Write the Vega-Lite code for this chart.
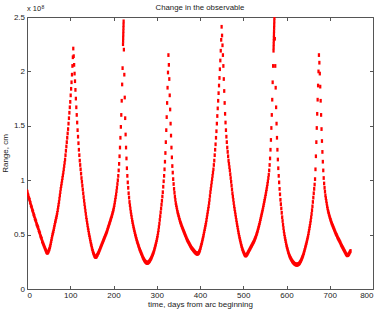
{
"$schema":"https://vega.github.io/schema/vega-lite/v6.json",
"autosize":"none",
"width":346,"height":272,
"padding":{"left":27,"top":17,"right":9,"bottom":23},
"background":"white",
"config":{"view":{"stroke":"#555","strokeWidth":1},"font":"Liberation Sans",
 "axis":{"domain":false,"grid":false,"tickColor":"#555","tickSize":-3.5,"labelFont":"Liberation Sans","labelFontSize":8,"labelColor":"#222","titleFont":"Liberation Sans","titleFontSize":8,"titleFontWeight":"normal","titleColor":"#222"}},
"datasets":{"obs":[
{"t":0,"r":0.90},{"t":1,"r":0.89},{"t":2,"r":0.87},{"t":3,"r":0.86},{"t":4,"r":0.84},{"t":5,"r":0.83},{"t":6,"r":0.82},{"t":7,"r":0.80},{"t":8,"r":0.79},{"t":9,"r":0.77},{"t":10,"r":0.76},{"t":11,"r":0.75},{"t":12,"r":0.73},{"t":13,"r":0.72},{"t":14,"r":0.71},{"t":15,"r":0.69},{"t":16,"r":0.68},{"t":17,"r":0.67},{"t":18,"r":0.65},{"t":19,"r":0.64},{"t":20,"r":0.63},{"t":21,"r":0.62},{"t":22,"r":0.60},{"t":23,"r":0.59},{"t":24,"r":0.58},{"t":25,"r":0.57},{"t":26,"r":0.56},{"t":27,"r":0.54},{"t":28,"r":0.53},{"t":29,"r":0.52},{"t":30,"r":0.51},{"t":31,"r":0.49},{"t":32,"r":0.48},{"t":33,"r":0.47},{"t":34,"r":0.46},{"t":35,"r":0.44},{"t":36,"r":0.43},{"t":37,"r":0.42},{"t":38,"r":0.41},{"t":39,"r":0.40},{"t":40,"r":0.39},{"t":41,"r":0.38},{"t":42,"r":0.37},{"t":43,"r":0.36},{"t":44,"r":0.35},{"t":45,"r":0.34},{"t":46,"r":0.335},{"t":47,"r":0.333},
{"t":48,"r":0.335},{"t":49,"r":0.34},{"t":50,"r":0.35},{"t":51,"r":0.36},{"t":52,"r":0.37},{"t":53,"r":0.385},{"t":54,"r":0.40},{"t":55,"r":0.42},{"t":56,"r":0.44},{"t":57,"r":0.46},{"t":58,"r":0.48},{"t":59,"r":0.50},{"t":60,"r":0.515},{"t":61,"r":0.53},{"t":62,"r":0.55},{"t":63,"r":0.57},{"t":64,"r":0.59},{"t":65,"r":0.61},{"t":66,"r":0.625},{"t":67,"r":0.645},{"t":68,"r":0.66},{"t":69,"r":0.68},{"t":70,"r":0.70},{"t":71,"r":0.725},{"t":72,"r":0.75},{"t":73,"r":0.775},{"t":74,"r":0.80},{"t":75,"r":0.83},{"t":76,"r":0.86},{"t":77,"r":0.89},{"t":78,"r":0.92},{"t":79,"r":0.945},{"t":80,"r":0.97},{"t":81,"r":0.995},{"t":82,"r":1.02},{"t":83,"r":1.045},{"t":84,"r":1.07},{"t":85,"r":1.10},{"t":86,"r":1.13},{"t":87,"r":1.16},{"t":88,"r":1.19},{"t":89,"r":1.23},{"t":90,"r":1.27},{"t":91,"r":1.31},{"t":92,"r":1.35},{"t":93,"r":1.39},{"t":94,"r":1.43},{"t":95,"r":1.47},{"t":96,"r":1.52},{"t":97,"r":1.57},{"t":98,"r":1.62},{"t":99,"r":1.67},{"t":100,"r":1.72},{"t":101,"r":1.78},{"t":102,"r":1.84},{"t":103,"r":1.90},{"t":104,"r":1.97},{"t":105,"r":2.05},{"t":106,"r":2.13},{"t":107,"r":2.21},
{"t":108,"r":2.14},{"t":109,"r":2.06},{"t":110,"r":1.98},{"t":111,"r":1.91},{"t":112,"r":1.83},{"t":113,"r":1.75},{"t":114,"r":1.67},{"t":115,"r":1.60},{"t":116,"r":1.53},{"t":117,"r":1.46},{"t":118,"r":1.40},{"t":119,"r":1.34},{"t":120,"r":1.28},{"t":121,"r":1.23},{"t":122,"r":1.18},{"t":123,"r":1.14},{"t":124,"r":1.10},{"t":125,"r":1.06},{"t":126,"r":1.02},{"t":127,"r":0.985},{"t":128,"r":0.95},{"t":129,"r":0.915},{"t":130,"r":0.88},{"t":131,"r":0.845},{"t":132,"r":0.81},{"t":133,"r":0.78},{"t":134,"r":0.75},{"t":135,"r":0.72},{"t":136,"r":0.69},{"t":137,"r":0.66},{"t":138,"r":0.635},{"t":139,"r":0.61},{"t":140,"r":0.585},{"t":141,"r":0.56},{"t":142,"r":0.54},{"t":143,"r":0.515},{"t":144,"r":0.495},{"t":145,"r":0.475},{"t":146,"r":0.455},{"t":147,"r":0.435},{"t":148,"r":0.415},{"t":149,"r":0.40},{"t":150,"r":0.38},{"t":151,"r":0.365},{"t":152,"r":0.35},{"t":153,"r":0.335},{"t":154,"r":0.325},{"t":155,"r":0.315},{"t":156,"r":0.305},{"t":157,"r":0.30},{"t":158,"r":0.295},{"t":159,"r":0.295},{"t":160,"r":0.297},
{"t":161,"r":0.30},{"t":162,"r":0.31},{"t":163,"r":0.315},{"t":164,"r":0.325},{"t":165,"r":0.33},{"t":166,"r":0.34},{"t":167,"r":0.35},{"t":168,"r":0.36},{"t":169,"r":0.37},{"t":170,"r":0.38},{"t":171,"r":0.39},{"t":172,"r":0.40},{"t":173,"r":0.41},{"t":174,"r":0.42},{"t":175,"r":0.43},{"t":176,"r":0.44},{"t":177,"r":0.45},{"t":178,"r":0.46},{"t":179,"r":0.47},{"t":180,"r":0.48},{"t":181,"r":0.49},{"t":182,"r":0.50},{"t":183,"r":0.51},{"t":184,"r":0.52},{"t":185,"r":0.53},{"t":186,"r":0.545},{"t":187,"r":0.557},{"t":188,"r":0.57},{"t":189,"r":0.582},{"t":190,"r":0.595},{"t":191,"r":0.607},{"t":192,"r":0.62},{"t":193,"r":0.632},{"t":194,"r":0.645},{"t":195,"r":0.657},{"t":196,"r":0.67},{"t":197,"r":0.685},{"t":198,"r":0.70},{"t":199,"r":0.715},{"t":200,"r":0.73},{"t":201,"r":0.75},{"t":202,"r":0.77},{"t":203,"r":0.795},{"t":204,"r":0.82},{"t":205,"r":0.845},{"t":206,"r":0.87},{"t":207,"r":0.90},{"t":208,"r":0.93},{"t":209,"r":0.965},{"t":210,"r":1.00},{"t":211,"r":1.04},{"t":212,"r":1.09},{"t":213,"r":1.15},{"t":214,"r":1.22},{"t":215,"r":1.30},{"t":216,"r":1.39},{"t":217,"r":1.49},{"t":218,"r":1.60},{"t":219,"r":1.73},{"t":220,"r":1.88},{"t":221,"r":2.03},{"t":222,"r":2.25},{"t":222.2,"r":2.28},{"t":222.4,"r":2.31},{"t":222.6,"r":2.34},{"t":222.8,"r":2.37},{"t":223,"r":2.40},{"t":223.2,"r":2.43},{"t":223.4,"r":2.46},
{"t":224,"r":2.20},{"t":225,"r":1.97},{"t":226,"r":1.76},{"t":227,"r":1.57},{"t":228,"r":1.42},{"t":229,"r":1.30},{"t":230,"r":1.20},{"t":231,"r":1.11},{"t":232,"r":1.04},{"t":233,"r":0.98},{"t":234,"r":0.93},{"t":235,"r":0.88},{"t":236,"r":0.84},{"t":237,"r":0.80},{"t":238,"r":0.77},{"t":239,"r":0.74},{"t":240,"r":0.71},{"t":241,"r":0.685},{"t":242,"r":0.66},{"t":243,"r":0.635},{"t":244,"r":0.615},{"t":245,"r":0.595},{"t":246,"r":0.575},{"t":247,"r":0.557},{"t":248,"r":0.54},{"t":249,"r":0.522},{"t":250,"r":0.505},{"t":251,"r":0.49},{"t":252,"r":0.475},{"t":253,"r":0.46},{"t":254,"r":0.445},{"t":255,"r":0.432},{"t":256,"r":0.42},{"t":257,"r":0.407},{"t":258,"r":0.395},{"t":259,"r":0.382},{"t":260,"r":0.37},{"t":261,"r":0.36},{"t":262,"r":0.35},{"t":263,"r":0.34},{"t":264,"r":0.33},{"t":265,"r":0.32},{"t":266,"r":0.31},{"t":267,"r":0.30},{"t":268,"r":0.29},{"t":269,"r":0.282},{"t":270,"r":0.275},{"t":271,"r":0.267},{"t":272,"r":0.26},{"t":273,"r":0.255},{"t":274,"r":0.25},{"t":275,"r":0.246},{"t":276,"r":0.243},{"t":277,"r":0.241},{"t":278,"r":0.24},{"t":279,"r":0.241},{"t":280,"r":0.243},
{"t":281,"r":0.246},{"t":282,"r":0.25},{"t":283,"r":0.255},{"t":284,"r":0.26},{"t":285,"r":0.267},{"t":286,"r":0.275},{"t":287,"r":0.282},{"t":288,"r":0.29},{"t":289,"r":0.30},{"t":290,"r":0.31},{"t":291,"r":0.32},{"t":292,"r":0.33},{"t":293,"r":0.342},{"t":294,"r":0.355},{"t":295,"r":0.37},{"t":296,"r":0.385},{"t":297,"r":0.40},{"t":298,"r":0.415},{"t":299,"r":0.432},{"t":300,"r":0.45},{"t":301,"r":0.47},{"t":302,"r":0.49},{"t":303,"r":0.515},{"t":304,"r":0.54},{"t":305,"r":0.57},{"t":306,"r":0.60},{"t":307,"r":0.635},{"t":308,"r":0.67},{"t":309,"r":0.705},{"t":310,"r":0.74},{"t":311,"r":0.775},{"t":312,"r":0.81},{"t":313,"r":0.85},{"t":314,"r":0.89},{"t":315,"r":0.94},{"t":316,"r":0.99},{"t":317,"r":1.04},{"t":318,"r":1.10},{"t":319,"r":1.17},{"t":320,"r":1.25},{"t":321,"r":1.35},{"t":322,"r":1.46},{"t":323,"r":1.58},{"t":324,"r":1.71},{"t":325,"r":1.85},{"t":326,"r":1.99},{"t":327,"r":2.15},
{"t":328,"r":2.06},{"t":329,"r":1.93},{"t":330,"r":1.78},{"t":331,"r":1.65},{"t":332,"r":1.52},{"t":333,"r":1.41},{"t":334,"r":1.30},{"t":335,"r":1.21},{"t":336,"r":1.13},{"t":337,"r":1.07},{"t":338,"r":1.01},{"t":339,"r":0.965},{"t":340,"r":0.92},{"t":341,"r":0.885},{"t":342,"r":0.85},{"t":343,"r":0.82},{"t":344,"r":0.79},{"t":345,"r":0.77},{"t":346,"r":0.75},{"t":347,"r":0.73},{"t":348,"r":0.71},{"t":349,"r":0.695},{"t":350,"r":0.68},{"t":351,"r":0.665},{"t":352,"r":0.65},{"t":353,"r":0.635},{"t":354,"r":0.62},{"t":355,"r":0.61},{"t":356,"r":0.60},{"t":357,"r":0.587},{"t":358,"r":0.575},{"t":359,"r":0.565},{"t":360,"r":0.555},{"t":361,"r":0.545},{"t":362,"r":0.535},{"t":363,"r":0.525},{"t":364,"r":0.515},{"t":365,"r":0.505},{"t":366,"r":0.495},{"t":367,"r":0.485},{"t":368,"r":0.475},{"t":369,"r":0.465},{"t":370,"r":0.455},{"t":371,"r":0.447},{"t":372,"r":0.44},{"t":373,"r":0.432},{"t":374,"r":0.425},{"t":375,"r":0.417},{"t":376,"r":0.41},{"t":377,"r":0.402},{"t":378,"r":0.395},{"t":379,"r":0.387},{"t":380,"r":0.38},{"t":381,"r":0.375},{"t":382,"r":0.37},{"t":383,"r":0.365},{"t":384,"r":0.36},{"t":385,"r":0.355},{"t":386,"r":0.35},{"t":387,"r":0.345},{"t":388,"r":0.34},{"t":389,"r":0.336},{"t":390,"r":0.332},{"t":391,"r":0.329},{"t":392,"r":0.326},{"t":393,"r":0.325},{"t":394,"r":0.324},{"t":395,"r":0.326},{"t":396,"r":0.328},
{"t":397,"r":0.332},{"t":398,"r":0.34},{"t":399,"r":0.35},{"t":400,"r":0.36},{"t":401,"r":0.375},{"t":402,"r":0.39},{"t":403,"r":0.405},{"t":404,"r":0.42},{"t":405,"r":0.437},{"t":406,"r":0.455},{"t":407,"r":0.472},{"t":408,"r":0.49},{"t":409,"r":0.51},{"t":410,"r":0.53},{"t":411,"r":0.55},{"t":412,"r":0.57},{"t":413,"r":0.59},{"t":414,"r":0.61},{"t":415,"r":0.635},{"t":416,"r":0.66},{"t":417,"r":0.685},{"t":418,"r":0.71},{"t":419,"r":0.735},{"t":420,"r":0.76},{"t":421,"r":0.79},{"t":422,"r":0.82},{"t":423,"r":0.855},{"t":424,"r":0.89},{"t":425,"r":0.92},{"t":426,"r":0.95},{"t":427,"r":0.98},{"t":428,"r":1.01},{"t":429,"r":1.04},{"t":430,"r":1.07},{"t":431,"r":1.10},{"t":432,"r":1.14},{"t":433,"r":1.18},{"t":434,"r":1.23},{"t":435,"r":1.28},{"t":436,"r":1.33},{"t":437,"r":1.39},{"t":438,"r":1.45},{"t":439,"r":1.52},{"t":440,"r":1.59},{"t":441,"r":1.66},{"t":442,"r":1.73},{"t":443,"r":1.80},{"t":444,"r":1.87},{"t":445,"r":1.94},{"t":446,"r":2.02},{"t":447,"r":2.10},{"t":448,"r":2.19},{"t":449,"r":2.29},{"t":450,"r":2.41},
{"t":451,"r":2.33},{"t":452,"r":2.24},{"t":453,"r":2.15},{"t":454,"r":2.05},{"t":455,"r":1.93},{"t":456,"r":1.82},{"t":457,"r":1.71},{"t":458,"r":1.61},{"t":459,"r":1.53},{"t":460,"r":1.46},{"t":461,"r":1.40},{"t":462,"r":1.35},{"t":463,"r":1.30},{"t":464,"r":1.26},{"t":465,"r":1.22},{"t":466,"r":1.18},{"t":467,"r":1.15},{"t":468,"r":1.12},{"t":469,"r":1.09},{"t":470,"r":1.055},{"t":471,"r":1.02},{"t":472,"r":0.985},{"t":473,"r":0.95},{"t":474,"r":0.915},{"t":475,"r":0.88},{"t":476,"r":0.85},{"t":477,"r":0.82},{"t":478,"r":0.79},{"t":479,"r":0.76},{"t":480,"r":0.735},{"t":481,"r":0.71},{"t":482,"r":0.685},{"t":483,"r":0.66},{"t":484,"r":0.635},{"t":485,"r":0.61},{"t":486,"r":0.587},{"t":487,"r":0.565},{"t":488,"r":0.542},{"t":489,"r":0.52},{"t":490,"r":0.50},{"t":491,"r":0.48},{"t":492,"r":0.462},{"t":493,"r":0.445},{"t":494,"r":0.427},{"t":495,"r":0.41},{"t":496,"r":0.395},{"t":497,"r":0.38},{"t":498,"r":0.367},{"t":499,"r":0.355},{"t":500,"r":0.345},{"t":501,"r":0.335},{"t":502,"r":0.326},{"t":503,"r":0.318},{"t":504,"r":0.312},{"t":505,"r":0.308},{"t":506,"r":0.308},{"t":507,"r":0.31},
{"t":508,"r":0.315},{"t":509,"r":0.32},{"t":510,"r":0.327},{"t":511,"r":0.335},{"t":512,"r":0.342},{"t":513,"r":0.35},{"t":514,"r":0.357},{"t":515,"r":0.365},{"t":516,"r":0.372},{"t":517,"r":0.38},{"t":518,"r":0.387},{"t":519,"r":0.395},{"t":520,"r":0.402},{"t":521,"r":0.41},{"t":522,"r":0.417},{"t":523,"r":0.425},{"t":524,"r":0.432},{"t":525,"r":0.44},{"t":526,"r":0.45},{"t":527,"r":0.46},{"t":528,"r":0.47},{"t":529,"r":0.48},{"t":530,"r":0.492},{"t":531,"r":0.505},{"t":532,"r":0.517},{"t":533,"r":0.53},{"t":534,"r":0.545},{"t":535,"r":0.56},{"t":536,"r":0.575},{"t":537,"r":0.59},{"t":538,"r":0.607},{"t":539,"r":0.625},{"t":540,"r":0.642},{"t":541,"r":0.66},{"t":542,"r":0.677},{"t":543,"r":0.695},{"t":544,"r":0.712},{"t":545,"r":0.73},{"t":546,"r":0.75},{"t":547,"r":0.77},{"t":548,"r":0.79},{"t":549,"r":0.81},{"t":550,"r":0.83},{"t":551,"r":0.85},{"t":552,"r":0.872},{"t":553,"r":0.895},{"t":554,"r":0.917},{"t":555,"r":0.94},{"t":556,"r":0.965},{"t":557,"r":0.99},{"t":558,"r":1.02},{"t":559,"r":1.05},{"t":560,"r":1.09},{"t":561,"r":1.14},{"t":562,"r":1.20},{"t":563,"r":1.28},{"t":564,"r":1.37},{"t":565,"r":1.48},{"t":566,"r":1.60},{"t":567,"r":1.74},{"t":568,"r":1.90},{"t":569,"r":2.05},{"t":570,"r":2.19},{"t":570.2,"r":2.22},{"t":570.4,"r":2.25},{"t":570.6,"r":2.28},{"t":570.8,"r":2.31},{"t":571,"r":2.34},{"t":571.2,"r":2.37},{"t":571.4,"r":2.40},{"t":571.6,"r":2.43},{"t":571.8,"r":2.46},{"t":572,"r":2.49},{"t":572.2,"r":2.52},
{"t":573,"r":2.30},{"t":574,"r":2.05},{"t":575,"r":1.85},{"t":576,"r":1.67},{"t":577,"r":1.52},{"t":578,"r":1.39},{"t":579,"r":1.28},{"t":580,"r":1.19},{"t":581,"r":1.11},{"t":582,"r":1.04},{"t":583,"r":0.98},{"t":584,"r":0.92},{"t":585,"r":0.87},{"t":586,"r":0.82},{"t":587,"r":0.78},{"t":588,"r":0.74},{"t":589,"r":0.70},{"t":590,"r":0.66},{"t":591,"r":0.625},{"t":592,"r":0.59},{"t":593,"r":0.56},{"t":594,"r":0.53},{"t":595,"r":0.505},{"t":596,"r":0.48},{"t":597,"r":0.46},{"t":598,"r":0.44},{"t":599,"r":0.42},{"t":600,"r":0.40},{"t":601,"r":0.385},{"t":602,"r":0.37},{"t":603,"r":0.355},{"t":604,"r":0.34},{"t":605,"r":0.327},{"t":606,"r":0.315},{"t":607,"r":0.305},{"t":608,"r":0.295},{"t":609,"r":0.287},{"t":610,"r":0.28},{"t":611,"r":0.272},{"t":612,"r":0.265},{"t":613,"r":0.258},{"t":614,"r":0.252},{"t":615,"r":0.247},{"t":616,"r":0.242},{"t":617,"r":0.238},{"t":618,"r":0.234},{"t":619,"r":0.231},{"t":620,"r":0.228},{"t":621,"r":0.226},{"t":622,"r":0.225},{"t":623,"r":0.224},{"t":624,"r":0.224},{"t":625,"r":0.224},{"t":626,"r":0.225},{"t":627,"r":0.227},
{"t":628,"r":0.23},{"t":629,"r":0.233},{"t":630,"r":0.237},{"t":631,"r":0.243},{"t":632,"r":0.25},{"t":633,"r":0.257},{"t":634,"r":0.265},{"t":635,"r":0.275},{"t":636,"r":0.285},{"t":637,"r":0.295},{"t":638,"r":0.305},{"t":639,"r":0.317},{"t":640,"r":0.33},{"t":641,"r":0.345},{"t":642,"r":0.36},{"t":643,"r":0.375},{"t":644,"r":0.39},{"t":645,"r":0.405},{"t":646,"r":0.42},{"t":647,"r":0.437},{"t":648,"r":0.455},{"t":649,"r":0.472},{"t":650,"r":0.49},{"t":651,"r":0.512},{"t":652,"r":0.535},{"t":653,"r":0.557},{"t":654,"r":0.58},{"t":655,"r":0.605},{"t":656,"r":0.63},{"t":657,"r":0.66},{"t":658,"r":0.69},{"t":659,"r":0.725},{"t":660,"r":0.76},{"t":661,"r":0.80},{"t":662,"r":0.84},{"t":663,"r":0.88},{"t":664,"r":0.92},{"t":665,"r":0.96},{"t":666,"r":1.01},{"t":667,"r":1.10},{"t":668,"r":1.22},{"t":669,"r":1.35},{"t":670,"r":1.48},{"t":671,"r":1.61},{"t":672,"r":1.74},{"t":673,"r":1.87},{"t":674,"r":2.00},{"t":675,"r":2.15},
{"t":676,"r":2.08},{"t":677,"r":1.98},{"t":678,"r":1.86},{"t":679,"r":1.73},{"t":680,"r":1.60},{"t":681,"r":1.47},{"t":682,"r":1.36},{"t":683,"r":1.26},{"t":684,"r":1.17},{"t":685,"r":1.09},{"t":686,"r":1.02},{"t":687,"r":0.97},{"t":688,"r":0.93},{"t":689,"r":0.895},{"t":690,"r":0.86},{"t":691,"r":0.835},{"t":692,"r":0.81},{"t":693,"r":0.785},{"t":694,"r":0.76},{"t":695,"r":0.74},{"t":696,"r":0.72},{"t":697,"r":0.705},{"t":698,"r":0.69},{"t":699,"r":0.675},{"t":700,"r":0.66},{"t":701,"r":0.647},{"t":702,"r":0.635},{"t":703,"r":0.622},{"t":704,"r":0.61},{"t":705,"r":0.60},{"t":706,"r":0.59},{"t":707,"r":0.58},{"t":708,"r":0.57},{"t":709,"r":0.56},{"t":710,"r":0.55},{"t":711,"r":0.54},{"t":712,"r":0.53},{"t":713,"r":0.52},{"t":714,"r":0.51},{"t":715,"r":0.502},{"t":716,"r":0.495},{"t":717,"r":0.485},{"t":718,"r":0.475},{"t":719,"r":0.467},{"t":720,"r":0.46},{"t":721,"r":0.452},{"t":722,"r":0.445},{"t":723,"r":0.437},{"t":724,"r":0.43},{"t":725,"r":0.42},{"t":726,"r":0.41},{"t":727,"r":0.402},{"t":728,"r":0.395},{"t":729,"r":0.387},{"t":730,"r":0.38},{"t":731,"r":0.372},{"t":732,"r":0.365},{"t":733,"r":0.357},{"t":734,"r":0.35},{"t":735,"r":0.342},{"t":736,"r":0.335},{"t":737,"r":0.327},{"t":738,"r":0.32},{"t":739,"r":0.315},{"t":740,"r":0.31},{"t":741,"r":0.31},{"t":742,"r":0.312},{"t":743,"r":0.315},{"t":744,"r":0.32},{"t":745,"r":0.327},{"t":746,"r":0.335},{"t":747,"r":0.342},{"t":748,"r":0.35}
]},
"layer":[
{"data":{"name":"obs"},
 "mark":{"type":"point","filled":true,"shape":"M-0.6,-1L0.6,-1L0.6,1L-0.6,1Z","size":14,"color":"#ff0000","opacity":1,"clip":true},
 "encoding":{
  "x":{"field":"t","type":"quantitative","scale":{"domain":[0,800],"nice":false,"zero":false},
       "axis":{"orient":"bottom","values":[0,100,200,300,400,500,600,700,800],"labelPadding":6,"title":"time, days from arc beginning","titlePadding":1}},
  "y":{"field":"r","type":"quantitative","scale":{"domain":[0,2.5],"nice":false,"zero":false},
       "axis":{"orient":"left","values":[0,0.5,1,1.5,2,2.5],"format":"~g","labelPadding":6,"title":"Range, cm","titlePadding":4}}}},
{"data":{"name":"obs"},
 "mark":{"type":"point","opacity":0},
 "encoding":{
  "x":{"field":"t","type":"quantitative","axis":{"orient":"top","values":[0,100,200,300,400,500,600,700,800],"labels":false,"title":null}},
  "y":{"field":"r","type":"quantitative","axis":{"orient":"right","values":[0,0.5,1,1.5,2,2.5],"labels":false,"title":null}}}},
{"data":{"values":[{}]},
 "mark":{"type":"text","text":"Change in the observable","align":"center","baseline":"bottom","dy":-5,"fontSize":7.8,"font":"Liberation Sans","color":"#222"},
 "encoding":{"x":{"datum":400,"type":"quantitative","axis":null},"y":{"datum":2.5,"type":"quantitative","axis":null}}},
{"data":{"values":[{}]},
 "mark":{"type":"text","text":"x 10","align":"left","baseline":"bottom","dy":-4,"fontSize":7.5,"font":"Liberation Sans","color":"#222"},
 "encoding":{"x":{"datum":0,"type":"quantitative","axis":null},"y":{"datum":2.5,"type":"quantitative","axis":null}}},
{"data":{"values":[{}]},
 "mark":{"type":"text","text":"8","align":"left","baseline":"bottom","dx":14.5,"dy":-7.5,"fontSize":5,"font":"Liberation Sans","color":"#222"},
 "encoding":{"x":{"datum":0,"type":"quantitative","axis":null},"y":{"datum":2.5,"type":"quantitative","axis":null}}}
],
"resolve":{"axis":{"x":"independent","y":"independent"}}
}
